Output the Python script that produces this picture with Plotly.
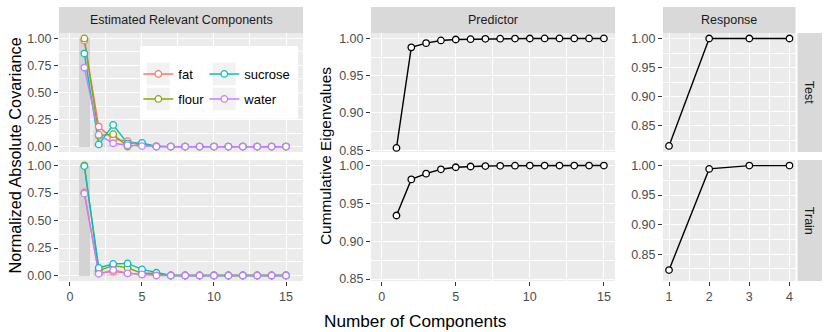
import plotly.graph_objects as go

W, H = 830, 332
FONT = "Liberation Sans"

comps = list(range(1, 16))
resp_comps = [1, 2, 3, 4]

# normalized absolute covariance, test set
fat_test = [0.98, 0.185, 0.07, 0.05, 0.02, 0.005, 0, 0, 0, 0, 0, 0, 0, 0, 0]
flour_test = [1.0, 0.10, 0.115, 0.0, 0.025, 0.0, 0, 0, 0, 0, 0, 0, 0, 0, 0]
sucrose_test = [0.86, 0.02, 0.20, 0.03, 0.035, 0.0, 0, 0, 0, 0, 0, 0, 0, 0, 0]
water_test = [0.73, 0.11, 0.031, 0.013, 0.005, 0.0, 0, 0, 0, 0, 0, 0, 0, 0, 0]

# normalized absolute covariance, train set
fat_train = [0.755, 0.02, 0.035, 0.02, 0.01, 0.01, 0, 0, 0, 0, 0, 0, 0, 0, 0]
flour_train = [1.0, 0.045, 0.09, 0.07, 0.02, 0.02, 0, 0, 0, 0, 0, 0, 0, 0, 0]
sucrose_train = [0.995, 0.07, 0.105, 0.11, 0.055, 0.025, 0, 0, 0, 0, 0, 0, 0, 0, 0]
water_train = [0.745, 0.015, 0.05, 0.02, 0.01, 0.0, 0, 0, 0, 0, 0, 0, 0, 0, 0]

# relative eigenvalues (grey bars)
eig_test = [1.0, 0.155, 0.006, 0.004, 0.002, 0.001, 0, 0, 0, 0, 0, 0, 0, 0, 0]
eig_train = [1.0, 0.05, 0.008, 0.006, 0.003, 0.001, 0, 0, 0, 0, 0, 0, 0, 0, 0]

# cumulative eigenvalues
pred_test = [0.853, 0.988, 0.9937, 0.9973, 0.9986, 0.999, 0.9995, 0.9997,
             0.9998, 0.9999, 1.0, 1.0, 1.0, 1.0, 1.0]
pred_train = [0.934, 0.9817, 0.9893, 0.995, 0.9977, 0.9987, 0.9993, 0.9996,
              0.9998, 0.9999, 1.0, 1.0, 1.0, 1.0, 1.0]
resp_test = [0.815, 1.0, 1.0, 1.0]
resp_train = [0.823, 0.9944, 1.0, 1.0]

names = ["fat", "flour", "sucrose", "water"]
colors = ["#F8766D", "#7CAE00", "#00BFC4", "#C77CFF"]
bar_colors = ["#D3D3D3"] + ["#DEDEDE"] * 14


def px(x):
    return x / W


def py(y):
    return 1 - y / H


# panel pixel boxes
cols = [(59, 303), (371, 615), (663, 795.5)]
rows = [(33, 152), (160, 281)]

fig = go.Figure()

# left column: bars, then lines, then points
for ax, eig, series in [("", eig_test, [fat_test, flour_test, sucrose_test, water_test]),
                        ("2", eig_train, [fat_train, flour_train, sucrose_train, water_train])]:
    fig.add_trace(go.Bar(x=comps, y=eig, width=0.8, marker=dict(color=bar_colors, line=dict(width=0)),
                         xaxis="x" + ax, yaxis="y" + ax, showlegend=False, hoverinfo="skip"))
    for s, c in zip(series, colors):
        fig.add_trace(go.Scatter(x=comps, y=s, mode="lines", line=dict(color=c, width=1.4),
                                 xaxis="x" + ax, yaxis="y" + ax, showlegend=False))
    for s, c in zip(series, colors):
        fig.add_trace(go.Scatter(x=comps, y=s, mode="markers",
                                 marker=dict(size=6.5, color="white", line=dict(color=c, width=1.3)),
                                 xaxis="x" + ax, yaxis="y" + ax, showlegend=False))

# legend entries
legs = ["legend", "legend2", "legend3", "legend4"]
for n, c, lg in zip(names, colors, legs):
    fig.add_trace(go.Scatter(x=[None], y=[None], mode="lines+markers", name=n, legend=lg,
                             line=dict(color=c, width=1.4),
                             marker=dict(size=6.5, color="white", line=dict(color=c, width=1.3)),
                             xaxis="x", yaxis="y", showlegend=True))

black = dict(mode="lines+markers", line=dict(color="black", width=1.4),
             marker=dict(size=6.5, color="white", line=dict(color="black", width=1.3)),
             showlegend=False)
fig.add_trace(go.Scatter(x=comps, y=pred_test, xaxis="x3", yaxis="y3", **black))
fig.add_trace(go.Scatter(x=comps, y=pred_train, xaxis="x4", yaxis="y4", **black))
fig.add_trace(go.Scatter(x=resp_comps, y=resp_test, xaxis="x5", yaxis="y5", **black))
fig.add_trace(go.Scatter(x=resp_comps, y=resp_train, xaxis="x6", yaxis="y6", **black))

tickfont = dict(family=FONT, size=12.5, color="#4D4D4D")


def axis(dom, rng, dtick, minor, labels=True, anchor=None, tick0=0):
    return dict(domain=dom, range=rng, dtick=dtick, tick0=tick0, anchor=anchor, automargin=False,
                showgrid=True, gridcolor="white", gridwidth=1.3, zeroline=False, showline=False,
                ticks="outside" if labels else "", ticklen=4, tickwidth=1, tickcolor="#333333",
                showticklabels=labels, tickfont=tickfont,
                minor=dict(dtick=minor, tick0=tick0, showgrid=True, gridcolor="white", gridwidth=0.6, ticks=""))


layout = {}
xr = [[-0.76, 16.18], [-0.72, 15.75], [0.85, 4.15]]
yr = [[-0.05, 1.05], [0.8475, 1.0073], [0.8045, 1.0095]]
ydt = [(0.25, 0.125), (0.05, 0.025), (0.05, 0.025)]
xdt = [(5, 2.5), (5, 2.5), (1, 0.5)]
n = 1
for ci, (x0, x1) in enumerate(cols):
    for ri, (y0, y1) in enumerate(rows):
        sx = "" if n == 1 else str(n)
        layout["xaxis" + sx] = axis([px(x0), px(x1)], xr[ci], xdt[ci][0], xdt[ci][1],
                                    labels=(ri == 1), anchor="y" + sx)
        layout["yaxis" + sx] = axis([py(y1), py(y0)], yr[ci], ydt[ci][0], ydt[ci][1],
                                    anchor="x" + sx)
        layout["yaxis" + sx]["tickformat"] = ".2f"
        n += 1

shapes = []
# top strips
for (x0, x1) in cols:
    shapes.append(dict(type="rect", xref="paper", yref="paper", x0=px(x0), x1=px(x1),
                       y0=py(33), y1=py(7), fillcolor="#D9D9D9", line=dict(width=0), layer="below"))
# right strips
for (y0, y1) in rows:
    shapes.append(dict(type="rect", xref="paper", yref="paper", x0=px(797.5), x1=px(822),
                       y0=py(y1), y1=py(y0), fillcolor="#D9D9D9", line=dict(width=0), layer="below"))
# legend box and keys
shapes.append(dict(type="rect", xref="paper", yref="paper", x0=px(140), x1=px(298),
                   y0=py(118.7), y1=py(46), fillcolor="white", line=dict(width=0), layer="above"))
for kx in [146.7, 212.7]:
    for ky in [62.7, 87.7]:
        shapes.append(dict(type="rect", xref="paper", yref="paper", x0=px(kx), x1=px(kx + 23),
                           y0=py(ky + 22.6), y1=py(ky), fillcolor="#F2F2F2", line=dict(width=0),
                           layer="above"))

strip_font = dict(family=FONT, size=12.5, color="#1A1A1A")
ann = [
    dict(text="Estimated Relevant Components", x=px(181), y=py(20), font=strip_font),
    dict(text="Predictor", x=px(493), y=py(20), font=strip_font),
    dict(text="Response", x=px(729.2), y=py(20), font=strip_font),
    dict(text="Test", x=px(809.7), y=py(92.5), font=strip_font, textangle=90),
    dict(text="Train", x=px(809.7), y=py(220.5), font=strip_font, textangle=90),
    dict(text="Normalized Absolute Covariance", x=px(14), y=py(155.5), textangle=-90,
         font=dict(family=FONT, size=16.3, color="black")),
    dict(text="Cummulative Eigenvalues", x=px(325.5), y=py(156.5), textangle=-90,
         font=dict(family=FONT, size=15.4, color="black")),
    dict(text="Number of Components", x=px(415), y=py(321), font=dict(family=FONT, size=17.2, color="black")),
]
for a in ann:
    a.update(xref="paper", yref="paper", showarrow=False, xanchor="center", yanchor="middle")

legpos = [(138.3, 74), (138.3, 99), (204.3, 74), (204.3, 99)]
for lg, (lx, ly) in zip(legs, legpos):
    layout[lg] = dict(x=px(lx), y=py(ly), xanchor="left", yanchor="middle",
                      bgcolor="rgba(0,0,0,0)", borderwidth=0,
                      font=dict(family=FONT, size=13, color="black"))

fig.update_layout(
    width=W, height=H, margin=dict(l=0, r=0, t=0, b=0),
    paper_bgcolor="white", plot_bgcolor="#EBEBEB",
    font=dict(family=FONT), shapes=shapes, annotations=ann,
    bargap=0, **layout,
)

# drop the page's default body margin so the figure sits at the window corner
fig.write_html("out.html", config={"displayModeBar": False},
               post_script="document.body.style.margin='0';")
